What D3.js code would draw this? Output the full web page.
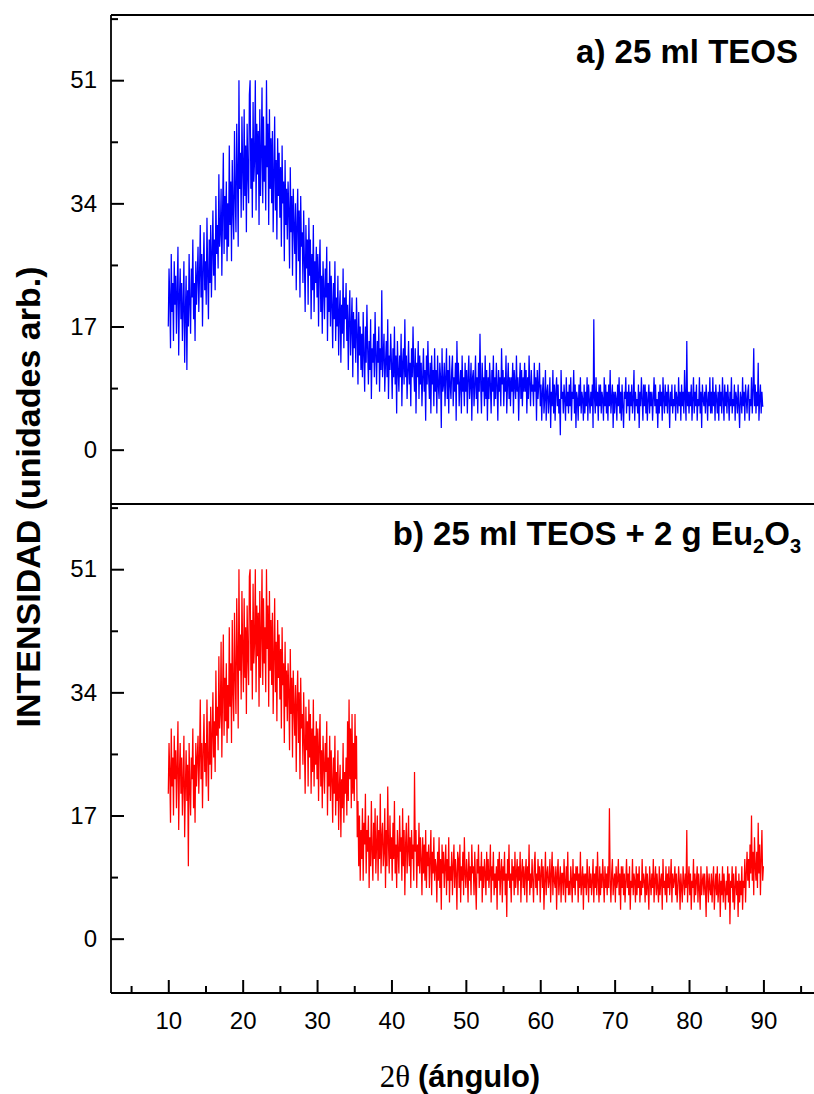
<!DOCTYPE html>
<html>
<head>
<meta charset="utf-8">
<script src="https://cdn.jsdelivr.net/npm/d3@7"></script>
<style>
  html, body { margin: 0; padding: 0; background: #fff; }
  svg { display: block; }
  text { font-family: "Liberation Sans", Arial, sans-serif; fill: #000; }
</style>
</head>
<body>
<svg id="chart" width="814" height="1094"></svg>
<script>
// Diffractogram sampling: 2θ from 10° to 90° in 0.1° steps (one row = 1°)
const angleStart = 10;
const angleStep = 0.1;

// a) 25 ml TEOS
const intensityA = [
  17,25,21,14,27,19,23,15,26,20,
  24,16,22,28,13,21,25,18,23,15,
  20,26,12,19,24,11,22,17,27,20,
  16,25,21,29,18,23,15,26,20,24,
  28,19,24,31,21,27,17,25,30,22,
  26,20,32,24,18,29,23,31,21,27,
  33,24,29,22,35,27,31,25,38,28,
  30,36,24,33,41,27,35,29,37,26,
  34,28,42,31,37,26,40,33,29,44,
  35,30,45,38,28,51,36,41,32,46,
  39,33,47,35,42,30,45,38,34,49,
  51,36,43,32,48,37,40,51,33,45,
  38,44,31,47,35,41,50,34,46,37,
  42,33,51,39,45,31,47,36,43,34,
  44,30,38,46,33,40,29,43,35,41,
  32,39,28,42,34,37,26,40,31,36,
  29,37,33,25,39,30,35,24,36,31,
  27,34,22,31,36,26,33,21,35,28,
  30,23,33,26,19,31,25,29,20,32,
  24,29,18,27,22,31,19,26,23,28,
  21,27,17,25,29,19,24,16,26,22,
  18,25,21,28,15,23,19,26,17,24,
  20,14,23,18,26,15,21,17,24,13,
  19,22,12,20,16,25,14,21,18,23,
  15,20,11,18,22,13,17,21,10,19,
  14,18,12,21,16,9,19,13,17,11,
  16,10,19,13,8,17,12,20,14,9,
  15,11,18,7,14,12,16,10,19,13,
  9,15,12,17,8,14,11,22,10,13,
  16,8,12,15,10,18,7,13,11,16,
  12,7,14,10,17,9,13,5,15,11,
  8,13,10,16,6,12,14,9,18,10,
  13,7,11,15,9,12,6,14,10,17,
  11,8,14,5,12,10,15,7,13,9,
  12,6,10,14,8,11,4,13,9,15,
  10,7,12,5,13,9,11,6,14,8,
  11,5,13,9,7,12,10,3,14,8,
  9,12,6,10,14,7,11,5,13,9,
  7,11,13,6,10,8,12,4,15,9,
  12,6,9,11,5,13,8,10,6,12,
  8,11,5,10,13,7,9,12,4,10,
  11,6,9,13,7,10,5,12,8,16,
  9,5,12,8,10,6,13,7,11,4,
  10,7,12,9,5,11,8,13,6,10,
  7,12,9,4,11,8,10,6,14,9,
  11,6,10,8,13,5,9,12,7,10,
  6,10,8,12,5,11,9,7,13,8,
  10,4,9,12,7,11,6,10,8,12,
  8,11,5,10,7,13,9,6,11,8,
  9,6,12,8,10,4,11,7,9,12,
  6,9,4,8,10,5,7,11,4,8,
  9,5,7,10,3,8,6,11,5,9,
  4,8,10,6,9,5,7,2,11,7,
  8,5,9,7,4,10,6,8,5,9,
  6,10,4,8,7,11,5,9,3,8,
  7,4,9,6,10,5,8,7,4,9,
  5,8,6,10,4,9,7,5,8,6,
  9,3,18,7,5,10,6,8,4,9,
  6,9,5,8,7,4,10,6,9,5,
  8,4,9,6,11,5,7,9,3,8,
  5,8,7,4,9,6,10,5,8,4,
  9,6,3,8,7,10,5,8,6,9,
  4,8,6,9,5,7,11,4,8,6,
  7,5,9,3,8,6,10,7,4,9,
  6,9,5,8,4,7,9,5,8,6,
  8,4,7,10,6,9,5,7,3,8,
  5,9,6,8,4,10,7,5,9,6,
  8,5,9,7,3,8,6,9,5,7,
  6,9,4,8,7,5,10,6,8,4,
  9,6,8,5,11,7,4,15,6,8,
  5,8,6,9,4,7,10,5,8,6,
  9,4,7,6,10,5,8,3,9,7,
  6,8,5,9,7,4,8,6,10,5,
  8,5,10,6,8,4,9,7,5,8,
  4,9,6,8,5,10,7,4,9,6,
  8,5,9,7,4,8,6,10,5,7,
  6,9,4,8,7,5,9,6,3,8,
  7,5,10,6,8,4,9,7,5,8,
  9,4,7,6,10,5,8,14,6,9,
  5,8,6,12,4,7,9,5,8,6,
  6
];

// b) 25 ml TEOS + 2 g Eu2O3
const intensityB = [
  20,27,23,16,29,21,25,17,28,22,
  26,18,24,30,15,23,27,20,25,17,
  22,28,14,21,26,19,24,10,27,21,
  17,25,22,29,18,24,16,27,21,25,
  28,20,25,33,22,27,18,26,31,23,
  27,21,33,25,19,30,24,32,22,28,
  34,25,30,23,37,28,32,26,39,29,
  31,41,25,34,42,28,36,30,38,27,
  35,29,43,32,38,27,44,34,30,45,
  36,31,47,39,29,51,37,42,33,48,
  40,34,47,36,43,31,46,39,35,50,
  51,37,44,33,49,38,41,51,34,46,
  39,45,32,48,36,42,51,35,47,38,
  43,34,51,40,46,32,48,37,44,35,
  45,31,39,47,34,41,30,44,36,42,
  33,40,29,43,35,38,27,41,32,37,
  30,38,34,26,40,31,36,25,37,32,
  28,35,23,33,37,27,34,22,36,29,
  31,24,34,27,20,32,26,30,21,33,
  25,31,20,29,23,33,21,28,24,30,
  22,29,19,27,31,21,26,18,28,24,
  20,27,23,30,17,25,21,28,19,26,
  22,16,25,20,28,17,23,19,26,15,
  21,24,14,22,18,27,16,23,20,25,
  17,30,19,33,22,29,18,31,20,27,
  19,31,22,28,14,19,10,17,8,15,
  11,18,8,16,13,20,9,15,12,17,
  7,14,10,19,12,8,16,11,18,9,
  13,17,8,15,11,20,9,14,16,10,
  12,18,7,15,10,21,13,9,17,11,
  14,8,16,11,19,9,13,7,15,12,
  9,17,12,14,8,18,10,15,6,13,
  16,9,12,17,10,14,7,15,11,13,
  8,23,12,15,7,13,10,16,9,14,
  11,6,14,9,13,8,15,7,12,10,
  13,7,11,15,6,12,9,14,8,11,
  10,5,12,8,14,7,11,4,13,9,
  12,7,10,13,6,11,8,14,5,10,
  8,12,6,10,13,7,11,9,4,12,
  11,7,13,5,10,8,12,6,14,9,
  7,11,9,5,12,8,10,6,13,9,
  10,6,12,8,4,11,9,13,7,10,
  8,12,5,10,7,11,9,6,12,8,
  11,7,9,13,5,10,8,12,6,9,
  7,10,4,11,8,12,6,9,11,5,
  10,8,12,6,9,3,11,8,13,7,
  9,5,11,8,10,6,12,7,9,11,
  6,10,8,12,5,9,11,7,10,6,
  9,11,5,10,8,13,6,9,7,11,
  8,5,10,12,7,9,6,11,8,10,
  5,9,11,7,10,4,8,12,6,9,
  10,7,8,11,5,9,12,6,10,8,
  7,10,4,9,11,6,8,10,5,9,
  9,6,11,8,5,10,7,12,6,8,
  6,10,8,5,11,7,9,6,10,8,
  10,5,9,7,12,6,8,10,4,9,
  7,9,6,11,8,5,10,7,9,6,
  8,11,5,9,7,10,6,12,8,5,
  10,6,9,7,11,8,5,10,7,9,
  6,10,7,18,8,5,9,11,6,8,
  9,5,10,7,8,11,6,9,4,10,
  7,10,6,9,5,8,11,7,9,6,
  10,4,8,7,11,6,9,8,5,10,
  6,9,7,10,5,8,6,11,7,9,
  8,5,10,6,9,7,4,10,8,6,
  9,7,11,5,8,10,6,9,7,5,
  10,6,8,9,4,11,7,8,6,10,
  5,9,7,10,6,8,11,5,9,7,
  8,10,6,9,5,7,10,8,4,9,
  7,5,10,8,6,9,7,15,5,8,
  10,6,9,4,8,7,11,5,9,6,
  8,10,5,9,7,4,10,6,8,9,
  6,9,7,3,10,8,5,9,7,6,
  9,5,8,10,4,7,9,6,10,5,
  7,9,3,8,6,10,5,9,7,4,
  8,6,10,5,9,2,8,7,10,5,
  9,4,7,10,6,8,3,9,5,8,
  6,10,4,8,7,11,5,9,12,8,
  11,7,13,9,17,8,12,6,14,10,
  8,12,7,16,9,13,6,11,15,8,
  10
];

const xMajorTicks = [10, 20, 30, 40, 50, 60, 70, 80, 90];
const xMinorTicks = [5, 15, 25, 35, 45, 55, 65, 75, 85, 95];
const yMajorTicks = [0, 17, 34, 51];
const yMinorTicks = [8.5, 25.5, 42.5, 59.5];

const svg = d3.select("#chart");

const plotLeft = 111, plotRight = 814;
const panels = [
  { top: 15,  bottom: 504, values: intensityA, color: "#0000ff",
    title: [["a) 25 ml TEOS", 0]], titleX: 798, titleY: 63 },
  { top: 504, bottom: 993, values: intensityB, color: "#ff0000",
    title: [["b) 25 ml TEOS + 2 g Eu", 0], ["2", 1], ["O", 0], ["3", 1]], titleX: 801, titleY: 545 }
];

const x = d3.scaleLinear().domain([2.3, 96.8]).range([plotLeft, plotRight]);

panels.forEach(p => {
  const y = d3.scaleLinear().domain([-7.5, 60]).range([p.bottom, p.top]);
  const g = svg.append("g");

  // diffraction trace
  const line = d3.line()
    .x((d, i) => x(angleStart + i * angleStep))
    .y(d => y(d));
  g.append("path")
    .datum(p.values)
    .attr("d", line)
    .attr("fill", "none")
    .attr("stroke", p.color)
    .attr("stroke-width", 1.25)
    .attr("stroke-linejoin", "miter");

  // y axis with inward ticks
  const yAxis = g.append("g")
    .attr("transform", `translate(${plotLeft},0)`)
    .call(d3.axisLeft(y).tickValues(yMajorTicks).tickSizeInner(-13).tickSizeOuter(0).tickPadding(14));
  yAxis.select(".domain").remove();
  yAxis.selectAll(".tick line").attr("stroke", "#000").attr("stroke-width", 2);
  yAxis.selectAll(".tick text")
    .style("font-family", "'Liberation Sans', Arial, sans-serif")
    .style("font-size", "24px")
    .attr("fill", "#000");

  const yMinor = g.append("g")
    .attr("transform", `translate(${plotLeft},0)`)
    .call(d3.axisLeft(y).tickValues(yMinorTicks).tickSizeInner(-7).tickSizeOuter(0).tickFormat(""));
  yMinor.select(".domain").remove();
  yMinor.selectAll(".tick line").attr("stroke", "#000").attr("stroke-width", 2);

  // panel title, with subscripts where needed
  const t = g.append("text")
    .attr("x", p.titleX)
    .attr("y", p.titleY)
    .attr("text-anchor", "end")
    .style("font-weight", "bold")
    .style("font-size", "33px");
  let shifted = false;
  p.title.forEach(([s, sub]) => {
    const ts = t.append("tspan").text(s);
    if (sub && !shifted) { ts.attr("dy", 8).style("font-size", "20px"); shifted = true; }
    else if (sub && shifted) { ts.style("font-size", "20px"); }
    else if (!sub && shifted) { ts.attr("dy", -8); shifted = false; }
  });
});

// shared 2θ axis at the bottom of the lower panel
const xAxis = svg.append("g")
  .attr("transform", `translate(0,993)`)
  .call(d3.axisBottom(x).tickValues(xMajorTicks).tickSizeInner(-13).tickSizeOuter(0).tickPadding(19));
xAxis.select(".domain").remove();
xAxis.selectAll(".tick line").attr("stroke", "#000").attr("stroke-width", 2);
xAxis.selectAll(".tick text")
  .style("font-family", "'Liberation Sans', Arial, sans-serif")
  .style("font-size", "24px")
  .attr("fill", "#000");

const xMinor = svg.append("g")
  .attr("transform", `translate(0,993)`)
  .call(d3.axisBottom(x).tickValues(xMinorTicks).tickSizeInner(-7).tickSizeOuter(0).tickFormat(""));
xMinor.select(".domain").remove();
xMinor.selectAll(".tick line").attr("stroke", "#000").attr("stroke-width", 2);

// frame lines
const frame = svg.append("g").attr("stroke", "#000").attr("stroke-width", 1.8).attr("fill", "none");
frame.append("line").attr("x1", plotLeft).attr("x2", plotLeft).attr("y1", 15).attr("y2", 993);
[15, 504, 993].forEach(yy => {
  frame.append("line").attr("x1", plotLeft).attr("x2", plotRight).attr("y1", yy).attr("y2", yy);
});

// axis titles
svg.append("text")
  .attr("transform", "translate(40,497) rotate(-90)")
  .attr("text-anchor", "middle")
  .style("font-weight", "bold")
  .style("font-size", "34px")
  .text("INTENSIDAD (unidades arb.)");

const xt = svg.append("text")
  .attr("x", 460)
  .attr("y", 1087)
  .attr("text-anchor", "middle")
  .style("font-size", "31px");
xt.append("tspan").style("font-family", "'Liberation Serif', 'Times New Roman', serif").text("2θ ");
xt.append("tspan").style("font-weight", "bold").text("(ángulo)");
</script>
</body>
</html>
